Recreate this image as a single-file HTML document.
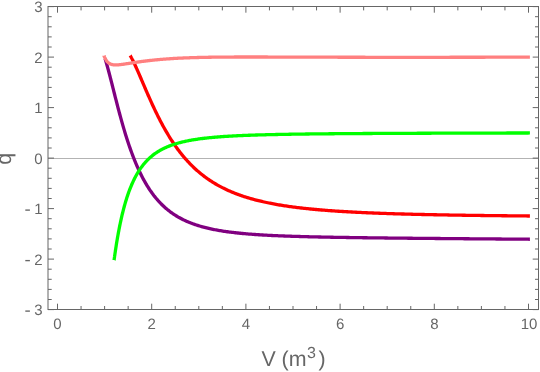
<!DOCTYPE html>
<html><head><meta charset="utf-8"><title>plot</title>
<style>
html,body{margin:0;padding:0;background:#fff;}
body{width:540px;height:372px;overflow:hidden;font-family:"Liberation Sans",sans-serif;}
svg{display:block;will-change:transform;}
text{font-family:"Liberation Sans",sans-serif;fill:#666;text-rendering:geometricPrecision;}
</style></head><body>
<svg width="540" height="372" viewBox="0 0 540 372">
<rect width="540" height="372" fill="#fff"/>
<line x1="48.0" y1="158.5" x2="538.5" y2="158.5" stroke="#b3b3b3" stroke-width="1"/>
<g fill="none" stroke-width="3.3" stroke-linejoin="round">
<path d="M105.21,59.06 L105.21,59.07 L105.22,59.09 L105.23,59.14 L105.25,59.20 L105.27,59.28 L105.30,59.37 L105.34,59.49 L105.38,59.62 L105.42,59.77 L105.47,59.93 L105.53,60.12 L105.59,60.32 L105.66,60.55 L105.73,60.79 L105.81,61.05 L105.89,61.33 L105.98,61.63 L106.07,61.94 L106.17,62.28 L106.27,62.64 L106.38,63.02 L106.50,63.42 L106.62,63.83 L106.74,64.27 L106.87,64.73 L107.01,65.22 L107.15,65.72 L107.30,66.25 L107.45,66.79 L107.61,67.36 L107.77,67.96 L107.94,68.57 L108.11,69.21 L108.29,69.87 L108.47,70.56 L108.66,71.27 L108.86,72.00 L109.06,72.75 L109.26,73.53 L109.47,74.33 L109.69,75.16 L109.91,76.01 L110.14,76.89 L110.37,77.79 L110.61,78.71 L110.85,79.65 L111.10,80.62 L111.35,81.62 L111.61,82.63 L111.88,83.67 L112.15,84.73 L112.42,85.82 L112.70,86.93 L112.99,88.05 L113.28,89.20 L113.57,90.38 L113.87,91.57 L114.18,92.78 L114.49,94.01 L114.81,95.26 L115.13,96.53 L115.46,97.82 L115.79,99.13 L116.13,100.45 L116.48,101.79 L116.83,103.15 L117.18,104.52 L117.54,105.90 L117.91,107.30 L118.28,108.71 L118.65,110.13 L119.04,111.57 L119.42,113.01 L119.81,114.47 L120.21,115.93 L120.61,117.41 L121.02,118.89 L121.44,120.37 L121.86,121.87 L122.28,123.36 L122.71,124.87 L123.14,126.37 L123.58,127.88 L124.03,129.39 L124.48,130.90 L124.94,132.41 L125.40,133.93 L125.86,135.44 L126.34,136.95 L126.81,138.45 L127.30,139.95 L127.79,141.45 L128.28,142.95 L128.78,144.44 L129.28,145.92 L129.79,147.40 L130.31,148.87 L130.83,150.33 L131.35,151.78 L131.88,153.23 L132.42,154.67 L132.96,156.09 L133.51,157.51 L134.06,158.91 L134.62,160.30 L135.18,161.69 L135.75,163.06 L136.32,164.41 L136.90,165.76 L137.49,167.09 L138.07,168.40 L138.67,169.71 L139.27,171.00 L139.88,172.27 L140.49,173.53 L141.10,174.78 L141.72,176.01 L142.35,177.22 L142.98,178.42 L143.62,179.61 L144.26,180.78 L144.91,181.93 L145.57,183.06 L146.22,184.18 L146.89,185.29 L147.56,186.38 L148.23,187.45 L148.91,188.50 L149.60,189.54 L150.29,190.57 L150.99,191.57 L151.69,192.56 L152.39,193.54 L153.11,194.50 L153.82,195.44 L154.55,196.36 L155.28,197.27 L156.01,198.17 L156.75,199.05 L157.49,199.91 L158.24,200.76 L159.00,201.59 L159.76,202.40 L160.52,203.21 L161.29,203.99 L162.07,204.76 L162.85,205.52 L163.64,206.26 L164.43,206.99 L165.23,207.70 L166.03,208.40 L166.84,209.08 L167.65,209.76 L168.47,210.41 L169.30,211.06 L170.13,211.69 L170.96,212.31 L171.80,212.91 L172.65,213.50 L173.50,214.08 L174.35,214.65 L175.22,215.20 L176.08,215.75 L176.96,216.28 L177.83,216.80 L178.72,217.31 L179.60,217.80 L180.50,218.29 L181.40,218.76 L182.30,219.23 L183.21,219.68 L184.13,220.13 L185.05,220.56 L185.97,220.98 L186.90,221.40 L187.84,221.80 L188.78,222.20 L189.73,222.59 L190.68,222.96 L191.64,223.33 L192.60,223.69 L193.57,224.04 L194.54,224.39 L195.52,224.72 L196.51,225.05 L197.50,225.37 L198.49,225.68 L199.49,225.98 L200.50,226.28 L201.51,226.57 L202.53,226.85 L203.55,227.13 L204.57,227.40 L205.61,227.66 L206.64,227.92 L207.69,228.17 L208.74,228.41 L209.79,228.65 L210.85,228.88 L211.91,229.11 L212.98,229.33 L214.06,229.54 L215.14,229.75 L216.22,229.96 L217.31,230.16 L218.41,230.35 L219.51,230.54 L220.62,230.73 L221.73,230.91 L222.85,231.08 L223.97,231.26 L225.10,231.42 L226.24,231.59 L227.37,231.75 L228.52,231.90 L229.67,232.05 L230.82,232.20 L231.98,232.34 L233.15,232.48 L234.32,232.62 L235.50,232.76 L236.68,232.89 L237.87,233.01 L239.06,233.14 L240.26,233.26 L241.46,233.37 L242.67,233.49 L243.88,233.60 L245.10,233.71 L246.33,233.82 L247.56,233.92 L248.79,234.02 L250.03,234.12 L251.28,234.22 L252.53,234.31 L253.78,234.40 L255.05,234.49 L256.31,234.58 L257.59,234.66 L258.86,234.75 L260.15,234.83 L261.44,234.91 L262.73,234.98 L264.03,235.06 L265.33,235.13 L266.64,235.21 L267.96,235.28 L269.28,235.34 L270.60,235.41 L271.93,235.48 L273.27,235.54 L274.61,235.60 L275.96,235.66 L277.31,235.72 L278.67,235.78 L280.03,235.84 L281.40,235.89 L282.78,235.95 L284.16,236.00 L285.54,236.05 L286.93,236.10 L288.33,236.15 L289.73,236.20 L291.13,236.25 L292.54,236.30 L293.96,236.34 L295.38,236.39 L296.81,236.43 L298.24,236.47 L299.68,236.51 L301.12,236.56 L302.57,236.60 L304.02,236.63 L305.48,236.67 L306.95,236.71 L308.42,236.75 L309.89,236.78 L311.37,236.82 L312.86,236.86 L314.35,236.89 L315.85,236.92 L317.35,236.96 L318.86,236.99 L320.37,237.02 L321.89,237.05 L323.41,237.08 L324.94,237.11 L326.47,237.14 L328.01,237.17 L329.56,237.20 L331.11,237.23 L332.66,237.26 L334.22,237.29 L335.79,237.31 L337.36,237.34 L338.94,237.37 L340.52,237.39 L342.11,237.42 L343.70,237.44 L345.30,237.47 L346.90,237.49 L348.51,237.52 L350.12,237.54 L351.74,237.57 L353.37,237.59 L355.00,237.61 L356.63,237.64 L358.27,237.66 L359.92,237.68 L361.57,237.70 L363.22,237.73 L364.89,237.75 L366.55,237.77 L368.23,237.79 L369.90,237.81 L371.59,237.83 L373.28,237.85 L374.97,237.87 L376.67,237.89 L378.37,237.91 L380.08,237.93 L381.80,237.95 L383.52,237.97 L385.25,237.99 L386.98,238.01 L388.71,238.03 L390.46,238.05 L392.20,238.07 L393.96,238.09 L395.71,238.10 L397.48,238.12 L399.25,238.14 L401.02,238.16 L402.80,238.18 L404.58,238.19 L406.37,238.21 L408.17,238.23 L409.97,238.25 L411.78,238.27 L413.59,238.28 L415.40,238.30 L417.23,238.32 L419.05,238.34 L420.89,238.35 L422.72,238.37 L424.57,238.39 L426.42,238.40 L428.27,238.42 L430.13,238.44 L431.99,238.45 L433.86,238.47 L435.74,238.49 L437.62,238.50 L439.51,238.52 L441.40,238.54 L443.29,238.55 L445.20,238.57 L447.10,238.59 L449.02,238.60 L450.93,238.62 L452.86,238.64 L454.79,238.65 L456.72,238.67 L458.66,238.68 L460.60,238.70 L462.56,238.72 L464.51,238.73 L466.47,238.75 L468.44,238.76 L470.41,238.78 L472.39,238.80 L474.37,238.81 L476.35,238.83 L478.35,238.84 L480.35,238.86 L482.35,238.88 L484.36,238.89 L486.37,238.91 L488.39,238.92 L490.42,238.94 L492.45,238.95 L494.48,238.97 L496.52,238.99 L498.57,239.00 L500.62,239.02 L502.68,239.03 L504.74,239.05 L506.81,239.06 L508.88,239.08 L510.96,239.09 L513.04,239.11 L515.13,239.12 L517.22,239.14 L519.32,239.16 L521.43,239.17 L523.54,239.19 L525.65,239.20 L527.77,239.22 L529.90,239.23" stroke="#800080"/>
<path d="M130.27,55.60 L130.27,55.60 L130.28,55.61 L130.29,55.64 L130.31,55.67 L130.33,55.71 L130.36,55.76 L130.39,55.81 L130.43,55.88 L130.47,55.96 L130.52,56.04 L130.57,56.13 L130.63,56.24 L130.69,56.35 L130.76,56.47 L130.83,56.60 L130.91,56.75 L130.99,56.90 L131.08,57.06 L131.17,57.23 L131.27,57.41 L131.37,57.60 L131.48,57.81 L131.60,58.02 L131.71,58.24 L131.84,58.48 L131.96,58.72 L132.10,58.98 L132.24,59.25 L132.38,59.53 L132.53,59.82 L132.68,60.13 L132.84,60.44 L133.00,60.77 L133.17,61.11 L133.34,61.46 L133.52,61.83 L133.70,62.21 L133.89,62.60 L134.09,63.00 L134.28,63.42 L134.49,63.85 L134.70,64.29 L134.91,64.75 L135.13,65.22 L135.35,65.70 L135.58,66.20 L135.81,66.71 L136.05,67.23 L136.29,67.77 L136.54,68.32 L136.80,68.89 L137.06,69.47 L137.32,70.06 L137.59,70.67 L137.86,71.29 L138.14,71.92 L138.42,72.57 L138.71,73.23 L139.01,73.91 L139.30,74.60 L139.61,75.30 L139.92,76.02 L140.23,76.74 L140.55,77.49 L140.87,78.24 L141.20,79.01 L141.54,79.79 L141.87,80.58 L142.22,81.38 L142.57,82.20 L142.92,83.03 L143.28,83.87 L143.64,84.72 L144.01,85.58 L144.39,86.45 L144.77,87.34 L145.15,88.23 L145.54,89.14 L145.93,90.05 L146.33,90.97 L146.74,91.90 L147.15,92.85 L147.56,93.80 L147.98,94.75 L148.40,95.72 L148.83,96.69 L149.27,97.68 L149.71,98.66 L150.15,99.66 L150.60,100.66 L151.05,101.67 L151.51,102.68 L151.98,103.70 L152.45,104.72 L152.92,105.75 L153.40,106.78 L153.89,107.81 L154.38,108.85 L154.87,109.90 L155.37,110.94 L155.87,111.99 L156.38,113.04 L156.90,114.09 L157.42,115.14 L157.94,116.20 L158.47,117.25 L159.01,118.31 L159.55,119.36 L160.09,120.42 L160.64,121.47 L161.20,122.52 L161.76,123.58 L162.32,124.63 L162.89,125.68 L163.47,126.72 L164.05,127.77 L164.63,128.81 L165.22,129.85 L165.82,130.89 L166.41,131.92 L167.02,132.95 L167.63,133.97 L168.24,134.99 L168.86,136.01 L169.49,137.02 L170.12,138.03 L170.76,139.03 L171.40,140.03 L172.04,141.02 L172.69,142.00 L173.35,142.98 L174.01,143.95 L174.67,144.92 L175.34,145.88 L176.02,146.84 L176.70,147.78 L177.38,148.72 L178.07,149.65 L178.77,150.58 L179.47,151.50 L180.17,152.41 L180.88,153.31 L181.60,154.21 L182.32,155.10 L183.05,155.98 L183.78,156.85 L184.51,157.71 L185.25,158.57 L186.00,159.42 L186.75,160.26 L187.50,161.09 L188.26,161.91 L189.03,162.72 L189.80,163.53 L190.58,164.33 L191.36,165.12 L192.14,165.90 L192.93,166.67 L193.73,167.43 L194.53,168.19 L195.34,168.93 L196.15,169.67 L196.96,170.40 L197.78,171.12 L198.61,171.83 L199.44,172.53 L200.28,173.22 L201.12,173.91 L201.96,174.59 L202.81,175.25 L203.67,175.91 L204.53,176.56 L205.40,177.21 L206.27,177.84 L207.14,178.47 L208.02,179.08 L208.91,179.69 L209.80,180.29 L210.70,180.89 L211.60,181.47 L212.51,182.05 L213.42,182.61 L214.33,183.17 L215.25,183.73 L216.18,184.27 L217.11,184.81 L218.05,185.34 L218.99,185.86 L219.94,186.37 L220.89,186.88 L221.84,187.37 L222.80,187.87 L223.77,188.35 L224.74,188.82 L225.72,189.29 L226.70,189.76 L227.69,190.21 L228.68,190.66 L229.68,191.10 L230.68,191.53 L231.68,191.96 L232.70,192.38 L233.71,192.79 L234.73,193.20 L235.76,193.60 L236.79,194.00 L237.83,194.39 L238.87,194.77 L239.92,195.14 L240.97,195.51 L242.03,195.88 L243.09,196.23 L244.15,196.59 L245.23,196.93 L246.30,197.27 L247.39,197.61 L248.47,197.94 L249.56,198.26 L250.66,198.58 L251.76,198.89 L252.87,199.20 L253.98,199.50 L255.10,199.80 L256.22,200.09 L257.35,200.38 L258.48,200.66 L259.62,200.94 L260.76,201.21 L261.91,201.48 L263.06,201.75 L264.22,202.01 L265.38,202.26 L266.55,202.51 L267.72,202.76 L268.90,203.00 L270.08,203.24 L271.27,203.47 L272.46,203.70 L273.65,203.93 L274.86,204.15 L276.06,204.37 L277.28,204.58 L278.49,204.79 L279.72,205.00 L280.94,205.20 L282.18,205.40 L283.41,205.60 L284.66,205.79 L285.90,205.98 L287.16,206.16 L288.42,206.35 L289.68,206.52 L290.95,206.70 L292.22,206.87 L293.50,207.04 L294.78,207.21 L296.07,207.37 L297.36,207.54 L298.66,207.69 L299.96,207.85 L301.27,208.00 L302.58,208.15 L303.90,208.30 L305.22,208.44 L306.55,208.59 L307.88,208.73 L309.22,208.86 L310.56,209.00 L311.91,209.13 L313.26,209.26 L314.62,209.39 L315.99,209.51 L317.35,209.63 L318.73,209.76 L320.10,209.87 L321.49,209.99 L322.88,210.11 L324.27,210.22 L325.67,210.33 L327.07,210.44 L328.48,210.54 L329.89,210.65 L331.31,210.75 L332.73,210.85 L334.16,210.95 L335.60,211.05 L337.03,211.15 L338.48,211.24 L339.93,211.33 L341.38,211.42 L342.84,211.51 L344.30,211.60 L345.77,211.69 L347.24,211.77 L348.72,211.85 L350.20,211.94 L351.69,212.02 L353.19,212.10 L354.69,212.17 L356.19,212.25 L357.70,212.32 L359.21,212.40 L360.73,212.47 L362.25,212.54 L363.78,212.61 L365.32,212.68 L366.85,212.75 L368.40,212.81 L369.95,212.88 L371.50,212.94 L373.06,213.01 L374.62,213.07 L376.19,213.13 L377.77,213.19 L379.35,213.25 L380.93,213.31 L382.52,213.36 L384.11,213.42 L385.71,213.47 L387.32,213.53 L388.93,213.58 L390.54,213.63 L392.16,213.68 L393.78,213.73 L395.41,213.78 L397.05,213.83 L398.68,213.88 L400.33,213.93 L401.98,213.98 L403.63,214.02 L405.29,214.07 L406.96,214.11 L408.63,214.16 L410.30,214.20 L411.98,214.24 L413.66,214.28 L415.35,214.32 L417.05,214.36 L418.75,214.40 L420.45,214.44 L422.16,214.48 L423.88,214.52 L425.59,214.56 L427.32,214.59 L429.05,214.63 L430.78,214.67 L432.52,214.70 L434.27,214.74 L436.02,214.77 L437.77,214.80 L439.53,214.84 L441.30,214.87 L443.07,214.90 L444.84,214.93 L446.62,214.96 L448.41,215.00 L450.19,215.03 L451.99,215.06 L453.79,215.09 L455.59,215.11 L457.40,215.14 L459.22,215.17 L461.04,215.20 L462.86,215.23 L464.69,215.25 L466.53,215.28 L468.37,215.31 L470.21,215.33 L472.06,215.36 L473.92,215.39 L475.78,215.41 L477.64,215.43 L479.51,215.46 L481.39,215.48 L483.27,215.51 L485.16,215.53 L487.05,215.55 L488.94,215.58 L490.84,215.60 L492.75,215.62 L494.66,215.64 L496.57,215.67 L498.49,215.69 L500.42,215.71 L502.35,215.73 L504.28,215.75 L506.22,215.77 L508.17,215.79 L510.12,215.81 L512.07,215.83 L514.04,215.85 L516.00,215.87 L517.97,215.89 L519.95,215.91 L521.93,215.93 L523.91,215.95 L525.90,215.96 L527.90,215.98 L529.90,216.00" stroke="#ff0000"/>
<path d="M114.09,260.05 L114.10,260.03 L114.10,259.97 L114.12,259.88 L114.14,259.74 L114.16,259.57 L114.19,259.36 L114.22,259.11 L114.26,258.82 L114.30,258.50 L114.35,258.14 L114.41,257.74 L114.47,257.31 L114.53,256.84 L114.61,256.33 L114.68,255.80 L114.76,255.22 L114.85,254.62 L114.94,253.98 L115.04,253.31 L115.14,252.61 L115.25,251.88 L115.36,251.12 L115.47,250.33 L115.60,249.52 L115.73,248.67 L115.86,247.80 L116.00,246.91 L116.14,245.99 L116.29,245.05 L116.44,244.08 L116.60,243.10 L116.77,242.09 L116.94,241.06 L117.11,240.02 L117.29,238.95 L117.48,237.87 L117.67,236.78 L117.86,235.67 L118.07,234.55 L118.27,233.41 L118.48,232.26 L118.70,231.10 L118.92,229.93 L119.15,228.75 L119.38,227.57 L119.62,226.37 L119.86,225.17 L120.11,223.97 L120.36,222.76 L120.62,221.54 L120.89,220.33 L121.16,219.11 L121.43,217.89 L121.71,216.67 L121.99,215.45 L122.28,214.23 L122.58,213.01 L122.88,211.79 L123.19,210.58 L123.50,209.37 L123.81,208.17 L124.13,206.97 L124.46,205.78 L124.79,204.59 L125.13,203.41 L125.47,202.24 L125.82,201.07 L126.17,199.91 L126.53,198.76 L126.89,197.62 L127.26,196.49 L127.63,195.37 L128.01,194.26 L128.40,193.16 L128.78,192.07 L129.18,190.99 L129.58,189.93 L129.98,188.87 L130.39,187.83 L130.81,186.80 L131.23,185.78 L131.66,184.77 L132.09,183.78 L132.52,182.80 L132.96,181.83 L133.41,180.87 L133.86,179.93 L134.32,179.00 L134.78,178.09 L135.25,177.18 L135.72,176.30 L136.20,175.42 L136.68,174.56 L137.17,173.71 L137.67,172.88 L138.16,172.05 L138.67,171.25 L139.18,170.45 L139.69,169.67 L140.21,168.90 L140.74,168.15 L141.27,167.40 L141.80,166.68 L142.34,165.96 L142.89,165.26 L143.44,164.57 L144.00,163.89 L144.56,163.22 L145.12,162.57 L145.70,161.93 L146.27,161.30 L146.86,160.69 L147.44,160.08 L148.04,159.49 L148.63,158.91 L149.24,158.34 L149.85,157.78 L150.46,157.24 L151.08,156.70 L151.70,156.18 L152.33,155.66 L152.97,155.16 L153.61,154.67 L154.25,154.18 L154.90,153.71 L155.56,153.25 L156.22,152.80 L156.89,152.35 L157.56,151.92 L158.23,151.50 L158.92,151.08 L159.60,150.67 L160.29,150.28 L160.99,149.89 L161.69,149.51 L162.40,149.14 L163.11,148.77 L163.83,148.42 L164.56,148.07 L165.29,147.73 L166.02,147.40 L166.76,147.07 L167.50,146.76 L168.25,146.45 L169.01,146.14 L169.77,145.85 L170.53,145.56 L171.30,145.27 L172.08,145.00 L172.86,144.73 L173.65,144.46 L174.44,144.21 L175.23,143.95 L176.04,143.71 L176.84,143.47 L177.65,143.23 L178.47,143.00 L179.30,142.78 L180.12,142.56 L180.96,142.35 L181.79,142.14 L182.64,141.94 L183.49,141.74 L184.34,141.54 L185.20,141.35 L186.07,141.17 L186.93,140.99 L187.81,140.81 L188.69,140.64 L189.58,140.47 L190.47,140.30 L191.36,140.14 L192.26,139.99 L193.17,139.83 L194.08,139.68 L195.00,139.54 L195.92,139.40 L196.85,139.26 L197.78,139.12 L198.72,138.99 L199.66,138.86 L200.61,138.73 L201.56,138.61 L202.52,138.49 L203.48,138.37 L204.45,138.26 L205.43,138.14 L206.41,138.03 L207.39,137.93 L208.38,137.82 L209.38,137.72 L210.38,137.62 L211.38,137.52 L212.39,137.43 L213.41,137.34 L214.43,137.25 L215.46,137.16 L216.49,137.07 L217.52,136.99 L218.57,136.90 L219.61,136.82 L220.67,136.74 L221.72,136.67 L222.79,136.59 L223.86,136.52 L224.93,136.45 L226.01,136.38 L227.09,136.31 L228.18,136.24 L229.28,136.18 L230.37,136.11 L231.48,136.05 L232.59,135.99 L233.70,135.93 L234.83,135.87 L235.95,135.82 L237.08,135.76 L238.22,135.71 L239.36,135.65 L240.51,135.60 L241.66,135.55 L242.81,135.50 L243.98,135.45 L245.14,135.41 L246.32,135.36 L247.50,135.31 L248.68,135.27 L249.87,135.23 L251.06,135.18 L252.26,135.14 L253.46,135.10 L254.67,135.06 L255.89,135.02 L257.11,134.99 L258.33,134.95 L259.56,134.91 L260.80,134.88 L262.04,134.84 L263.28,134.81 L264.54,134.78 L265.79,134.74 L267.05,134.71 L268.32,134.68 L269.59,134.65 L270.87,134.62 L272.15,134.59 L273.44,134.56 L274.73,134.53 L276.03,134.51 L277.33,134.48 L278.64,134.45 L279.96,134.43 L281.27,134.40 L282.60,134.38 L283.93,134.35 L285.26,134.33 L286.60,134.30 L287.95,134.28 L289.30,134.26 L290.65,134.24 L292.01,134.21 L293.38,134.19 L294.75,134.17 L296.13,134.15 L297.51,134.13 L298.90,134.11 L300.29,134.09 L301.69,134.07 L303.09,134.06 L304.50,134.04 L305.91,134.02 L307.33,134.00 L308.75,133.98 L310.18,133.97 L311.61,133.95 L313.05,133.93 L314.50,133.92 L315.95,133.90 L317.40,133.89 L318.86,133.87 L320.33,133.86 L321.80,133.84 L323.27,133.83 L324.75,133.81 L326.24,133.80 L327.73,133.79 L329.23,133.77 L330.73,133.76 L332.24,133.75 L333.75,133.73 L335.27,133.72 L336.79,133.71 L338.32,133.70 L339.85,133.68 L341.39,133.67 L342.93,133.66 L344.48,133.65 L346.03,133.64 L347.59,133.63 L349.16,133.61 L350.73,133.60 L352.30,133.59 L353.88,133.58 L355.47,133.57 L357.06,133.56 L358.66,133.55 L360.26,133.54 L361.86,133.53 L363.47,133.52 L365.09,133.51 L366.71,133.50 L368.34,133.49 L369.97,133.48 L371.61,133.48 L373.25,133.47 L374.90,133.46 L376.55,133.45 L378.21,133.44 L379.88,133.43 L381.55,133.42 L383.22,133.42 L384.90,133.41 L386.58,133.40 L388.27,133.39 L389.97,133.38 L391.67,133.38 L393.37,133.37 L395.08,133.36 L396.80,133.35 L398.52,133.35 L400.25,133.34 L401.98,133.33 L403.72,133.32 L405.46,133.32 L407.21,133.31 L408.96,133.30 L410.72,133.30 L412.48,133.29 L414.25,133.28 L416.02,133.28 L417.80,133.27 L419.58,133.26 L421.37,133.26 L423.17,133.25 L424.97,133.24 L426.77,133.24 L428.58,133.23 L430.40,133.23 L432.22,133.22 L434.04,133.21 L435.87,133.21 L437.71,133.20 L439.55,133.20 L441.40,133.19 L443.25,133.19 L445.11,133.18 L446.97,133.17 L448.84,133.17 L450.71,133.16 L452.59,133.16 L454.47,133.15 L456.36,133.15 L458.25,133.14 L460.15,133.14 L462.05,133.13 L463.96,133.13 L465.88,133.12 L467.80,133.12 L469.72,133.11 L471.65,133.11 L473.59,133.10 L475.53,133.10 L477.48,133.09 L479.43,133.09 L481.38,133.08 L483.34,133.08 L485.31,133.07 L487.28,133.07 L489.26,133.06 L491.24,133.06 L493.23,133.05 L495.22,133.05 L497.22,133.04 L499.22,133.04 L501.23,133.03 L503.25,133.03 L505.27,133.03 L507.29,133.02 L509.32,133.02 L511.35,133.01 L513.39,133.01 L515.44,133.00 L517.49,133.00 L519.54,133.00 L521.60,132.99 L523.67,132.99 L525.74,132.98 L527.82,132.98 L529.90,132.97" stroke="#00ff00"/>
<path d="M103.95,55.67 L103.95,55.68 L103.96,55.70 L103.97,55.73 L103.99,55.78 L104.02,55.84 L104.05,55.92 L104.08,56.01 L104.12,56.11 L104.17,56.23 L104.22,56.35 L104.27,56.49 L104.34,56.64 L104.40,56.80 L104.47,56.97 L104.55,57.15 L104.63,57.33 L104.72,57.53 L104.82,57.73 L104.92,57.94 L105.02,58.15 L105.13,58.37 L105.24,58.60 L105.37,58.82 L105.49,59.05 L105.62,59.28 L105.76,59.52 L105.90,59.75 L106.05,59.99 L106.20,60.22 L106.36,60.45 L106.52,60.68 L106.69,60.91 L106.86,61.13 L107.04,61.35 L107.23,61.57 L107.42,61.78 L107.61,61.99 L107.81,62.19 L108.02,62.39 L108.23,62.57 L108.45,62.76 L108.67,62.93 L108.90,63.10 L109.13,63.26 L109.37,63.42 L109.61,63.57 L109.86,63.70 L110.11,63.84 L110.37,63.96 L110.64,64.08 L110.91,64.18 L111.18,64.28 L111.47,64.38 L111.75,64.46 L112.04,64.54 L112.34,64.61 L112.64,64.67 L112.95,64.73 L113.26,64.78 L113.58,64.82 L113.91,64.85 L114.23,64.88 L114.57,64.91 L114.91,64.92 L115.25,64.93 L115.60,64.94 L115.96,64.94 L116.32,64.93 L116.69,64.92 L117.06,64.91 L117.44,64.89 L117.82,64.86 L118.21,64.83 L118.60,64.80 L119.00,64.77 L119.40,64.73 L119.81,64.68 L120.23,64.64 L120.65,64.59 L121.07,64.53 L121.50,64.48 L121.94,64.42 L122.38,64.36 L122.83,64.30 L123.28,64.24 L123.74,64.17 L124.20,64.10 L124.67,64.03 L125.14,63.96 L125.62,63.89 L126.11,63.82 L126.60,63.74 L127.09,63.66 L127.59,63.59 L128.10,63.51 L128.61,63.43 L129.12,63.35 L129.65,63.27 L130.17,63.19 L130.71,63.10 L131.24,63.02 L131.79,62.94 L132.33,62.85 L132.89,62.77 L133.45,62.68 L134.01,62.60 L134.58,62.51 L135.16,62.43 L135.74,62.34 L136.32,62.26 L136.92,62.17 L137.51,62.09 L138.11,62.00 L138.72,61.92 L139.33,61.83 L139.95,61.75 L140.58,61.66 L141.20,61.58 L141.84,61.49 L142.48,61.41 L143.12,61.32 L143.77,61.24 L144.43,61.16 L145.09,61.07 L145.76,60.99 L146.43,60.91 L147.10,60.83 L147.79,60.75 L148.47,60.67 L149.17,60.59 L149.87,60.51 L150.57,60.43 L151.28,60.35 L151.99,60.28 L152.71,60.20 L153.44,60.12 L154.17,60.05 L154.90,59.97 L155.64,59.90 L156.39,59.83 L157.14,59.76 L157.90,59.69 L158.66,59.62 L159.43,59.55 L160.20,59.48 L160.98,59.41 L161.77,59.34 L162.56,59.28 L163.35,59.21 L164.15,59.15 L164.96,59.09 L165.77,59.03 L166.58,58.96 L167.40,58.90 L168.23,58.85 L169.06,58.79 L169.90,58.73 L170.74,58.68 L171.59,58.62 L172.44,58.57 L173.30,58.52 L174.17,58.46 L175.04,58.41 L175.91,58.36 L176.79,58.32 L177.68,58.27 L178.57,58.22 L179.46,58.18 L180.37,58.13 L181.27,58.09 L182.19,58.05 L183.10,58.00 L184.03,57.96 L184.95,57.93 L185.89,57.89 L186.83,57.85 L187.77,57.81 L188.72,57.78 L189.68,57.74 L190.64,57.71 L191.60,57.68 L192.57,57.65 L193.55,57.62 L194.53,57.59 L195.52,57.56 L196.51,57.53 L197.51,57.50 L198.51,57.48 L199.52,57.45 L200.54,57.43 L201.56,57.40 L202.58,57.38 L203.61,57.36 L204.65,57.34 L205.69,57.32 L206.73,57.30 L207.79,57.28 L208.84,57.26 L209.90,57.25 L210.97,57.23 L212.04,57.21 L213.12,57.20 L214.21,57.18 L215.30,57.17 L216.39,57.16 L217.49,57.14 L218.59,57.13 L219.70,57.12 L220.82,57.11 L221.94,57.10 L223.07,57.09 L224.20,57.08 L225.34,57.07 L226.48,57.07 L227.63,57.06 L228.78,57.05 L229.94,57.05 L231.10,57.04 L232.27,57.03 L233.45,57.03 L234.63,57.02 L235.81,57.02 L237.00,57.02 L238.20,57.01 L239.40,57.01 L240.61,57.01 L241.82,57.01 L243.04,57.00 L244.26,57.00 L245.49,57.00 L246.72,57.00 L247.96,57.00 L249.20,57.00 L250.45,57.00 L251.71,57.00 L252.97,57.00 L254.23,57.00 L255.50,57.00 L256.78,57.00 L258.06,57.01 L259.35,57.01 L260.64,57.01 L261.94,57.01 L263.24,57.01 L264.55,57.02 L265.86,57.02 L267.18,57.02 L268.51,57.03 L269.84,57.03 L271.17,57.03 L272.51,57.04 L273.86,57.04 L275.21,57.04 L276.57,57.05 L277.93,57.05 L279.29,57.05 L280.67,57.06 L282.05,57.06 L283.43,57.07 L284.82,57.07 L286.21,57.08 L287.61,57.08 L289.02,57.08 L290.43,57.09 L291.84,57.09 L293.26,57.10 L294.69,57.10 L296.12,57.11 L297.56,57.11 L299.00,57.12 L300.44,57.12 L301.90,57.12 L303.36,57.13 L304.82,57.13 L306.29,57.14 L307.76,57.14 L309.24,57.15 L310.73,57.15 L312.22,57.16 L313.71,57.16 L315.21,57.17 L316.72,57.17 L318.23,57.17 L319.75,57.18 L321.27,57.18 L322.80,57.19 L324.33,57.19 L325.87,57.20 L327.41,57.20 L328.96,57.20 L330.52,57.21 L332.08,57.21 L333.64,57.22 L335.21,57.22 L336.79,57.22 L338.37,57.23 L339.96,57.23 L341.55,57.23 L343.15,57.24 L344.75,57.24 L346.36,57.24 L347.97,57.25 L349.59,57.25 L351.21,57.25 L352.84,57.26 L354.48,57.26 L356.12,57.26 L357.76,57.26 L359.41,57.27 L361.07,57.27 L362.73,57.27 L364.40,57.27 L366.07,57.28 L367.75,57.28 L369.43,57.28 L371.12,57.28 L372.81,57.28 L374.51,57.29 L376.22,57.29 L377.93,57.29 L379.64,57.29 L381.36,57.29 L383.09,57.29 L384.82,57.29 L386.55,57.30 L388.30,57.30 L390.04,57.30 L391.80,57.30 L393.55,57.30 L395.32,57.30 L397.09,57.30 L398.86,57.30 L400.64,57.30 L402.42,57.30 L404.21,57.30 L406.01,57.30 L407.81,57.30 L409.62,57.30 L411.43,57.30 L413.24,57.30 L415.07,57.30 L416.89,57.30 L418.73,57.30 L420.56,57.30 L422.41,57.30 L424.26,57.30 L426.11,57.30 L427.97,57.29 L429.83,57.29 L431.70,57.29 L433.58,57.29 L435.46,57.29 L437.35,57.29 L439.24,57.29 L441.14,57.28 L443.04,57.28 L444.95,57.28 L446.86,57.28 L448.78,57.28 L450.70,57.27 L452.63,57.27 L454.56,57.27 L456.50,57.27 L458.45,57.26 L460.40,57.26 L462.36,57.26 L464.32,57.26 L466.28,57.25 L468.26,57.25 L470.23,57.25 L472.22,57.25 L474.20,57.24 L476.20,57.24 L478.20,57.24 L480.20,57.23 L482.21,57.23 L484.22,57.23 L486.24,57.22 L488.27,57.22 L490.30,57.21 L492.34,57.21 L494.38,57.21 L496.42,57.20 L498.48,57.20 L500.53,57.20 L502.60,57.19 L504.66,57.19 L506.74,57.18 L508.82,57.18 L510.90,57.17 L512.99,57.17 L515.09,57.17 L517.19,57.16 L519.29,57.16 L521.40,57.15 L523.52,57.15 L525.64,57.14 L527.77,57.14 L529.90,57.13" stroke="#ff8080"/>
</g>
<path d="M57.50,309.50v-5.80M57.50,6.50v6.20M81.05,309.50v-3.50M81.05,6.50v3.90M104.60,309.50v-3.50M104.60,6.50v3.90M128.15,309.50v-3.50M128.15,6.50v3.90M151.70,309.50v-5.80M151.70,6.50v6.20M175.25,309.50v-3.50M175.25,6.50v3.90M198.80,309.50v-3.50M198.80,6.50v3.90M222.35,309.50v-3.50M222.35,6.50v3.90M245.90,309.50v-5.80M245.90,6.50v6.20M269.45,309.50v-3.50M269.45,6.50v3.90M293.00,309.50v-3.50M293.00,6.50v3.90M316.55,309.50v-3.50M316.55,6.50v3.90M340.10,309.50v-5.80M340.10,6.50v6.20M363.65,309.50v-3.50M363.65,6.50v3.90M387.20,309.50v-3.50M387.20,6.50v3.90M410.75,309.50v-3.50M410.75,6.50v3.90M434.30,309.50v-5.80M434.30,6.50v6.20M457.85,309.50v-3.50M457.85,6.50v3.90M481.40,309.50v-3.50M481.40,6.50v3.90M504.95,309.50v-3.50M504.95,6.50v3.90M528.50,309.50v-5.80M528.50,6.50v6.20M48.00,309.60h6.00M538.50,309.60h-5.80M48.00,299.50h3.70M538.50,299.50h-3.50M48.00,289.40h3.70M538.50,289.40h-3.50M48.00,279.30h3.70M538.50,279.30h-3.50M48.00,269.20h3.70M538.50,269.20h-3.50M48.00,259.10h6.00M538.50,259.10h-5.80M48.00,249.00h3.70M538.50,249.00h-3.50M48.00,238.90h3.70M538.50,238.90h-3.50M48.00,228.80h3.70M538.50,228.80h-3.50M48.00,218.70h3.70M538.50,218.70h-3.50M48.00,208.60h6.00M538.50,208.60h-5.80M48.00,198.50h3.70M538.50,198.50h-3.50M48.00,188.40h3.70M538.50,188.40h-3.50M48.00,178.30h3.70M538.50,178.30h-3.50M48.00,168.20h3.70M538.50,168.20h-3.50M48.00,158.10h6.00M538.50,158.10h-5.80M48.00,148.00h3.70M538.50,148.00h-3.50M48.00,137.90h3.70M538.50,137.90h-3.50M48.00,127.80h3.70M538.50,127.80h-3.50M48.00,117.70h3.70M538.50,117.70h-3.50M48.00,107.60h6.00M538.50,107.60h-5.80M48.00,97.50h3.70M538.50,97.50h-3.50M48.00,87.40h3.70M538.50,87.40h-3.50M48.00,77.30h3.70M538.50,77.30h-3.50M48.00,67.20h3.70M538.50,67.20h-3.50M48.00,57.10h6.00M538.50,57.10h-5.80M48.00,47.00h3.70M538.50,47.00h-3.50M48.00,36.90h3.70M538.50,36.90h-3.50M48.00,26.80h3.70M538.50,26.80h-3.50M48.00,16.70h3.70M538.50,16.70h-3.50M48.00,6.60h6.00M538.50,6.60h-5.80" stroke="#666" stroke-width="1" fill="none"/>
<rect x="48.0" y="6.5" width="490.5" height="303.0" fill="none" stroke="#666" stroke-width="1"/>
<g font-size="15"><text transform="translate(57.50,329.1) scale(1.000,1)" text-anchor="middle">0</text><text transform="translate(151.70,329.1) scale(1.000,1)" text-anchor="middle">2</text><text transform="translate(245.90,329.1) scale(1.000,1)" text-anchor="middle">4</text><text transform="translate(340.10,329.1) scale(1.000,1)" text-anchor="middle">6</text><text transform="translate(434.30,329.1) scale(1.000,1)" text-anchor="middle">8</text><text transform="translate(529.00,329.1) scale(1.000,1)" text-anchor="middle">10</text><text transform="translate(42.7,12.20) scale(1.000,1)" text-anchor="end">3</text><text transform="translate(42.7,62.70) scale(1.000,1)" text-anchor="end">2</text><text transform="translate(42.7,113.20) scale(1.000,1)" text-anchor="end">1</text><text transform="translate(42.7,163.70) scale(1.000,1)" text-anchor="end">0</text><text transform="translate(42.7,214.20) scale(1.000,1)" text-anchor="end">1</text><rect x="25.3" y="209.43" width="4.6" height="1.35" fill="#666"/><text transform="translate(42.7,264.70) scale(1.000,1)" text-anchor="end">2</text><rect x="25.3" y="259.93" width="4.6" height="1.35" fill="#666"/><text transform="translate(42.7,315.20) scale(1.000,1)" text-anchor="end">3</text><rect x="25.3" y="310.43" width="4.6" height="1.35" fill="#666"/></g>
<text x="261.4" y="365.7" font-size="21.4">V (m<tspan dy="-8" dx="0.5" font-size="16">3</tspan><tspan dy="8" font-size="21.4" dx="2.6">)</tspan></text>
<text transform="translate(11.3,158.7) rotate(-90)" font-size="21.4" text-anchor="middle">q</text>
</svg>
</body></html>
